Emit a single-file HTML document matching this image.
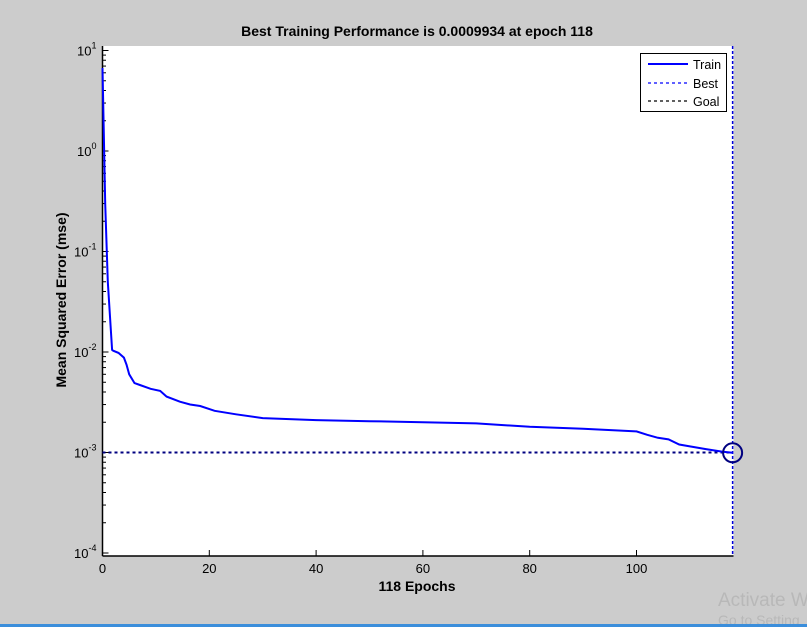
<!DOCTYPE html>
<html><head><meta charset="utf-8"><style>
body{margin:0;background:#cccccc;}
svg{display:block;font-family:"Liberation Sans",Arial,sans-serif;}
</style></head><body>
<svg id="chart" width="807" height="627" viewBox="0 0 807 627">
<rect x="0" y="0" width="807" height="627" fill="#cccccc"/>
<rect x="102.5" y="46" width="631" height="510" fill="#ffffff"/>
<text x="417" y="36" text-anchor="middle" font-size="14" font-weight="bold">Best Training Performance is 0.0009934 at epoch 118</text>
<text x="417" y="591" text-anchor="middle" font-size="14" font-weight="bold">118 Epochs</text>
<text transform="translate(66,300) rotate(-90)" text-anchor="middle" font-size="14" font-weight="bold">Mean Squared Error  (mse)</text>
<g id="axes"></g>
<g id="series"></g>
<g>
<rect x="640.5" y="53.5" width="86" height="58" fill="#fff" stroke="#000" stroke-width="1"/>
<line x1="648" y1="64" x2="688" y2="64" stroke="#0000ff" stroke-width="2"/>
<text x="693" y="69" font-size="12.5">Train</text>
<line x1="648" y1="83" x2="688" y2="83" stroke="#0000ff" stroke-width="1.3" stroke-dasharray="3,3"/>
<text x="693" y="88" font-size="12.5">Best</text>
<line x1="648" y1="101" x2="688" y2="101" stroke="#000" stroke-width="1.3" stroke-dasharray="3,3"/>
<text x="693" y="106" font-size="12.5">Goal</text>
</g>
<text x="718" y="606" font-size="19" fill="#b8b8b8">Activate W</text>
<text x="718" y="625" font-size="14" fill="#b8b8b8">Go to Setting</text>
<rect x="0" y="624" width="807" height="3" fill="#3b8edb"/>
</svg>
<script>
const epochs=[0,0.5,1,1.8,2,3,4,4.5,5,6,7,9,10.8,12,14.5,16.4,18.3,21,25,30,40,50,60,70,80,90,100,102,104,106,108,110,113,116,118];
const trainMse=[6.7,0.3,0.05,0.0105,0.0103,0.0098,0.0088,0.0075,0.006,0.0049,0.0047,0.0043,0.0041,0.0036,0.0032,0.003,0.0029,0.0026,0.0024,0.0022,0.0021,0.00205,0.002,0.00195,0.0018,0.00172,0.00162,0.0015,0.0014,0.00135,0.0012,0.00115,0.00108,0.00102,0.0009934];
const bestEpoch=[118];
const bestValue=[0.0009934];
const goalValue=[0.001];
const xTicks=[0,20,40,60,80,100];
const yDecades=[-4,-3,-2,-1,0,1];
const NS='http://www.w3.org/2000/svg';
const X0=102.5,PXE=5.34,Y1=50.5,PXD=100.5;
function xs(e){return X0+e*PXE;}
function ys(v){return Y1+(1-Math.log10(v))*PXD;}
const ax=document.getElementById('axes'),se=document.getElementById('series');
function mk(tag,at,p){const e=document.createElementNS(NS,tag);for(const k in at)e.setAttribute(k,at[k]);p.appendChild(e);return e;}
let yl=mk('line',{x1:X0,y1:46,x2:X0,y2:556,stroke:'#000','stroke-width':1.5},ax);


let xl=mk('line',{x1:X0,y1:556,x2:733.5,y2:556,stroke:'#000','stroke-width':1.5},ax);


xTicks.forEach(t=>{
 mk('line',{x1:xs(t),y1:556,x2:xs(t),y2:550,stroke:'#000'},ax);
 const tx=mk('text',{x:xs(t),y:573,'text-anchor':'middle','font-size':13},ax);
 tx.textContent=t;
 
 
});
yDecades.forEach(d=>{
 const y=ys(Math.pow(10,d));
 mk('line',{x1:X0,y1:y,x2:X0+6,y2:y,stroke:'#000'},ax);
 const tx=mk('text',{x:X0-6,y:y+5,'text-anchor':'end','font-size':13},ax);
 tx.innerHTML='10<tspan dy="-7" font-size="9">'+d+'</tspan>';
 
 
 if(d<1)for(let m=2;m<10;m++){const ym=ys(m*Math.pow(10,d));if(ym>46)mk('line',{x1:X0,y1:ym,x2:X0+3.5,y2:ym,stroke:'#000'},ax);}
});
let g=mk('line',{x1:X0,y1:ys(goalValue[0]),x2:733,y2:ys(goalValue[0]),stroke:'#000080','stroke-width':2,'stroke-dasharray':'3,3'},se);


let b=mk('line',{x1:xs(bestEpoch[0]),y1:46,x2:xs(bestEpoch[0]),y2:556,stroke:'#0000dd','stroke-width':1.5,'stroke-dasharray':'3,2'},se);


let pts=epochs.map((e,i)=>xs(e).toFixed(1)+','+ys(trainMse[i]).toFixed(1)).join(' ');
let tr=mk('polyline',{points:pts,fill:'none',stroke:'#0000ff','stroke-width':2},se);


let c=mk('circle',{cx:xs(bestEpoch[0]),cy:ys(bestValue[0]),r:9.5,fill:'none',stroke:'#000080','stroke-width':2},se);


</script>
</body></html>
